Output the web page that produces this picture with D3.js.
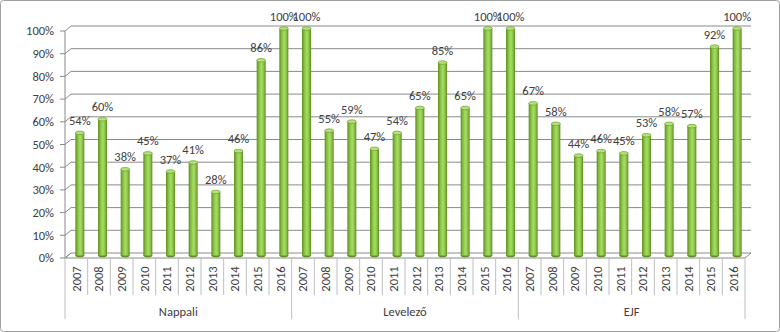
<!DOCTYPE html>
<html><head><meta charset="utf-8">
<script src="https://cdn.jsdelivr.net/npm/d3@7"></script>
<style>
html,body{margin:0;padding:0;background:#fff;}
svg text{font-family:Carlito,Calibri,"Liberation Sans Narrow","Liberation Sans",sans-serif;fill:#404040;}
</style></head><body>
<svg id="chart" width="780" height="332"></svg>
<script>
const groups = ["Nappali", "Levelező", "EJF"];
const years = ["2007","2008","2009","2010","2011","2012","2013","2014","2015","2016"];
const nappali = [54, 60, 38, 45, 37, 41, 28, 46, 86, 100];
const levelezo = [100, 55, 59, 47, 54, 65, 85, 65, 100, 100];
const ejf = [67, 58, 44, 46, 45, 53, 58, 57, 92, 100];
const yTicks = [0,10,20,30,40,50,60,70,80,90,100];

const seriesByGroup = [nappali, levelezo, ejf];
const data = [];
groups.forEach((g, gi) => years.forEach((y, yi) => data.push({group: g, year: y, key: g + "|" + y, value: seriesByGroup[gi][yi]})));

const svg = d3.select("#chart");
const X0 = 65, X1 = 745, Y0 = 258, Y100 = 31, DX = 6, DY = -5;
const x = d3.scaleBand().domain(data.map(d => d.key)).range([X0, X1]).padding(0);
const y = d3.scaleLinear().domain([0, 100]).range([Y0, Y100]);
const grid = "#8a8a8a";

svg.append("rect").attr("x", 0.5).attr("y", 0.5).attr("width", 779).attr("height", 331)
  .attr("rx", 3).attr("fill", "#fff").attr("stroke", "#a0a0a0");

const defs = svg.append("defs");
const grad = defs.append("linearGradient").attr("id", "cyl").attr("x1", "0").attr("x2", "1").attr("y1", "0").attr("y2", "0");
[["0%", "#5f8f22"], ["30%", "#8cc648"], ["55%", "#a8dc66"], ["80%", "#86bf42"], ["100%", "#5b8a1f"]]
  .forEach(([o, c]) => grad.append("stop").attr("offset", o).attr("stop-color", c));

const gridG = svg.append("g");
yTicks.forEach(t => {
  const yy = y(t);
  if (t > 0) {
    gridG.append("line").attr("x1", X0 + DX).attr("x2", X1 + DX).attr("y1", yy + DY).attr("y2", yy + DY)
      .attr("stroke", grid).attr("stroke-width", 1);
  }
  gridG.append("line").attr("x1", X0).attr("y1", yy).attr("x2", X0 + DX).attr("y2", yy + DY).attr("stroke", grid);
  gridG.append("line").attr("x1", X0 - 5).attr("x2", X0).attr("y1", yy).attr("y2", yy).attr("stroke", grid);
});
gridG.append("line").attr("x1", X0).attr("x2", X0).attr("y1", y(100)).attr("y2", Y0).attr("stroke", grid);
gridG.append("path")
  .attr("d", `M${X0},${Y0}L${X1},${Y0}L${X1 + DX},${Y0 + DY}L${X0 + DX},${Y0 + DY}Z`)
  .attr("fill", "none").attr("stroke", grid);

svg.append("g").selectAll("text").data(yTicks).join("text")
  .attr("x", 54).attr("y", d => y(d)).attr("dy", "0.35em")
  .attr("text-anchor", "end").attr("font-size", 12.5).text(d => d + "%");

const yb = v => y(v) + DY / 2;
const bw = 9;
const cx = d => x(d.key) + x.bandwidth() / 2 + 3.5;
const bars = svg.append("g").selectAll("g").data(data).join("g");
bars.append("ellipse").attr("cx", cx).attr("cy", yb(0)).attr("rx", bw / 2).attr("ry", 1.8).attr("fill", "#5f8f22");
bars.append("rect").attr("x", d => cx(d) - bw / 2).attr("width", bw)
  .attr("y", d => yb(d.value)).attr("height", d => yb(0) - yb(d.value)).attr("fill", "url(#cyl)");
bars.append("ellipse").attr("cx", cx).attr("cy", d => yb(d.value)).attr("rx", bw / 2).attr("ry", 1.8)
  .attr("fill", "#b4e27c").attr("stroke", "#6d9e2c").attr("stroke-width", 0.7);

svg.append("g").selectAll("text").data(data).join("text")
  .attr("x", cx).attr("y", d => yb(d.value) - 8).attr("text-anchor", "middle")
  .attr("font-size", 12.5).text(d => d.value + "%");

const axisG = svg.append("g");
data.forEach((d, i) => {
  if (i % years.length !== 0) {
    axisG.append("line").attr("x1", x(d.key)).attr("x2", x(d.key)).attr("y1", Y0).attr("y2", 295).attr("stroke", "#bfbfbf");
  }
});
const gb = [X0, x(groups[1] + "|2007"), x(groups[2] + "|2007"), X1];
gb.forEach(v => axisG.append("line").attr("x1", v).attr("x2", v).attr("y1", Y0).attr("y2", 319).attr("stroke", "#bfbfbf"));

axisG.selectAll("text.yr").data(data).join("text").attr("class", "yr")
  .attr("transform", d => `translate(${x(d.key) + x.bandwidth() / 2},279) rotate(-90)`)
  .attr("text-anchor", "middle").attr("dy", "0.35em").attr("font-size", 12.5).text(d => d.year);

axisG.selectAll("text.grp").data(groups).join("text").attr("class", "grp")
  .attr("x", (g, i) => (gb[i] + gb[i + 1]) / 2).attr("y", 312).attr("dy", "0.35em")
  .attr("text-anchor", "middle").attr("font-size", 12.5).text(g => g);
</script>
</body></html>
